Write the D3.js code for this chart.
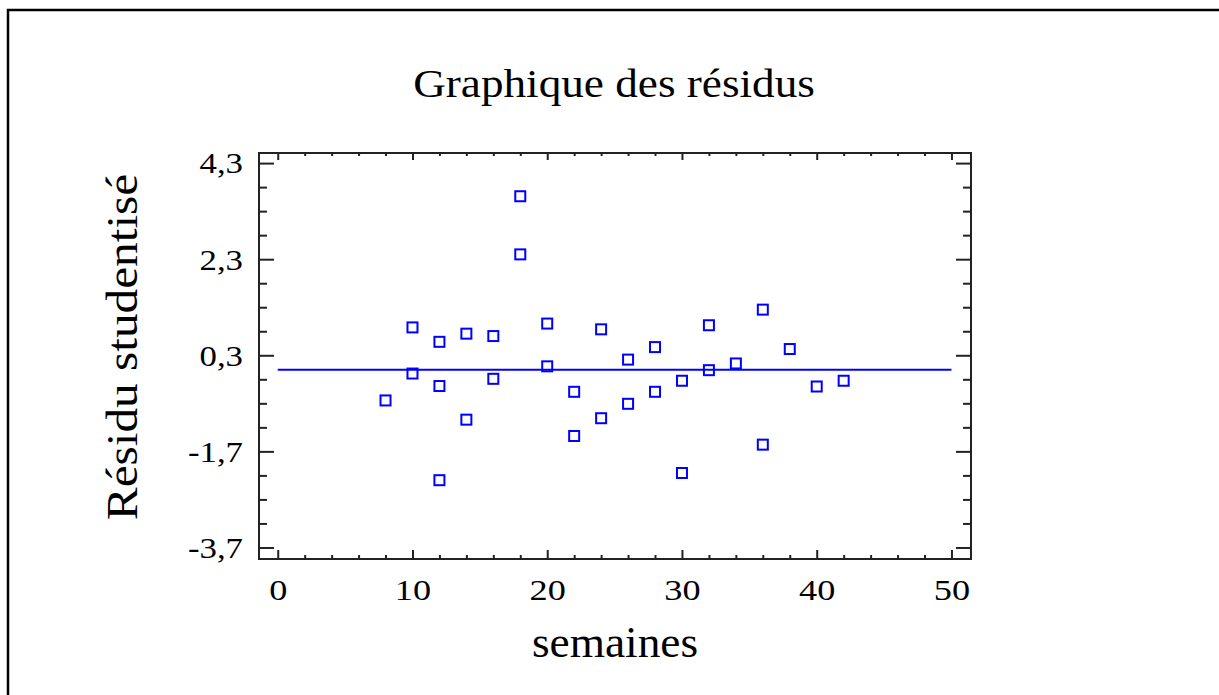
<!DOCTYPE html>
<html>
<head>
<meta charset="utf-8">
<script src="https://cdn.jsdelivr.net/npm/d3@7"></script>
<style>
  html, body { margin: 0; padding: 0; background: #fff; }
  svg { display: block; }
  text { font-family: "Liberation Serif", "Times New Roman", serif; fill: #000; }
</style>
</head>
<body>
<svg id="chart" width="1219" height="695"></svg>
<script>
// Studentized residuals by week
const weeks = [8, 10, 10, 12, 12, 12, 14, 14, 16, 16, 18, 18, 20, 20, 22, 22,
               24, 24, 26, 26, 28, 28, 30, 30, 32, 32, 34, 36, 36, 38, 40, 42];
const residuals = [-0.64, 0.88, -0.08, 0.58, -0.34, -2.30, 0.75, -1.04, 0.70, -0.19,
                   3.61, 2.40, 0.96, 0.07, -0.46, -1.38, 0.84, -1.01, 0.21, -0.71,
                   0.47, -0.46, -0.23, -2.15, 0.925, -0.01, 0.13, 1.25, -1.56, 0.43,
                   -0.35, -0.23];
const xTicks = [0, 10, 20, 30, 40, 50];
const xMinor = [2, 4, 6, 8, 12, 14, 16, 18, 22, 24, 26, 28, 32, 34, 36, 38, 42, 44, 46, 48];
const yTicks = [4.3, 2.3, 0.3, -1.7, -3.7];
const yMinor = [3.8, 3.3, 2.8, 1.8, 1.3, 0.8, -0.2, -0.7, -1.2, -2.2, -2.7, -3.2];
const refLine = [[0, 0], [50, 0]];
const title = "Graphique des résidus";
const xTitle = "semaines";
const yTitle = "Résidu studentisé";

const svg = d3.select("#chart");
const frame = { left: 259, right: 971, top: 153, bottom: 559 };

const x = d3.scaleLinear().domain([-1.39, 51.45]).range([frame.left, frame.right]);
const y = d3.scaleLinear().domain([-3.94, 4.51]).range([frame.bottom, frame.top]);
// decimal comma, plain hyphen for negatives
const fmt = d => d3.format(".1f")(d).replace(".", ",").replace("\u2212", "-");

// widen serif glyphs horizontally
function widen(sel, k) {
  sel.each(function () {
    const w = this.getComputedTextLength();
    this.setAttribute("textLength", w * k);
    this.setAttribute("lengthAdjust", "spacingAndGlyphs");
  });
}

// outer border
svg.append("path")
  .attr("d", "M8,700 L8,10 L1225,10")
  .attr("fill", "none").attr("stroke", "#000").attr("stroke-width", 2.5);

function styleAxis(g) {
  g.select(".domain").remove();
  g.selectAll(".tick line").attr("stroke", "#222").attr("stroke-width", 2);
}

// left axis with labels
const gl = svg.append("g").attr("transform", `translate(${frame.left},0)`)
  .call(d3.axisLeft(y).tickValues(yTicks).tickSize(-15).tickPadding(16).tickFormat(fmt))
  .call(styleAxis);
gl.selectAll("text").attr("font-size", 29).attr("font-family", "Liberation Serif").attr("fill", "#000").attr("dy", "0.34em");
widen(gl.selectAll("text"), 1.2);
svg.append("g").attr("transform", `translate(${frame.left},0)`)
  .call(d3.axisLeft(y).tickValues(yMinor).tickSize(-8).tickFormat(""))
  .call(styleAxis);

// right axis
svg.append("g").attr("transform", `translate(${frame.right},0)`)
  .call(d3.axisRight(y).tickValues(yTicks).tickSize(-15).tickFormat(""))
  .call(styleAxis);
svg.append("g").attr("transform", `translate(${frame.right},0)`)
  .call(d3.axisRight(y).tickValues(yMinor).tickSize(-8).tickFormat(""))
  .call(styleAxis);

// bottom axis with labels
const gb = svg.append("g").attr("transform", `translate(0,${frame.bottom})`)
  .call(d3.axisBottom(x).tickValues(xTicks).tickSize(-9).tickPadding(20).tickFormat(d3.format("d")))
  .call(styleAxis);
gb.selectAll("text").attr("font-size", 29).attr("font-family", "Liberation Serif").attr("fill", "#000");
widen(gb.selectAll("text"), 1.25);
svg.append("g").attr("transform", `translate(0,${frame.bottom})`)
  .call(d3.axisBottom(x).tickValues(xMinor).tickSize(-4).tickFormat(""))
  .call(styleAxis);

// top axis
svg.append("g").attr("transform", `translate(0,${frame.top})`)
  .call(d3.axisTop(x).tickValues(xTicks).tickSize(-7).tickFormat(""))
  .call(styleAxis);
svg.append("g").attr("transform", `translate(0,${frame.top})`)
  .call(d3.axisTop(x).tickValues(xMinor).tickSize(-3).tickFormat(""))
  .call(styleAxis);

// plot frame
svg.append("rect")
  .attr("x", frame.left).attr("y", frame.top)
  .attr("width", frame.right - frame.left).attr("height", frame.bottom - frame.top)
  .attr("fill", "none").attr("stroke", "#222").attr("stroke-width", 2);

// zero reference line
svg.append("path")
  .datum(refLine)
  .attr("d", d3.line().x(d => x(d[0])).y(d => y(d[1])))
  .attr("fill", "none").attr("stroke", "#0000ff").attr("stroke-width", 2);

// residual points
const s = 10;
svg.append("g").selectAll("rect")
  .data(weeks.map((w, i) => [w, residuals[i]]))
  .join("rect")
  .attr("x", d => x(d[0]) - s / 2)
  .attr("y", d => y(d[1]) - s / 2)
  .attr("width", s).attr("height", s)
  .attr("fill", "none").attr("stroke", "#0000ff").attr("stroke-width", 2);

// titles
const t = svg.append("text").attr("x", 614).attr("y", 97)
  .attr("text-anchor", "middle").attr("font-size", 40).text(title);
widen(t, 1.13);

const xt = svg.append("text").attr("x", 615).attr("y", 657)
  .attr("text-anchor", "middle").attr("font-size", 44).text(xTitle);
widen(xt, 1.03);

const yt = svg.append("text")
  .attr("transform", "translate(137,347) rotate(-90)")
  .attr("text-anchor", "middle").attr("font-size", 44).text(yTitle);
widen(yt, 1.12);
</script>
</body>
</html>
